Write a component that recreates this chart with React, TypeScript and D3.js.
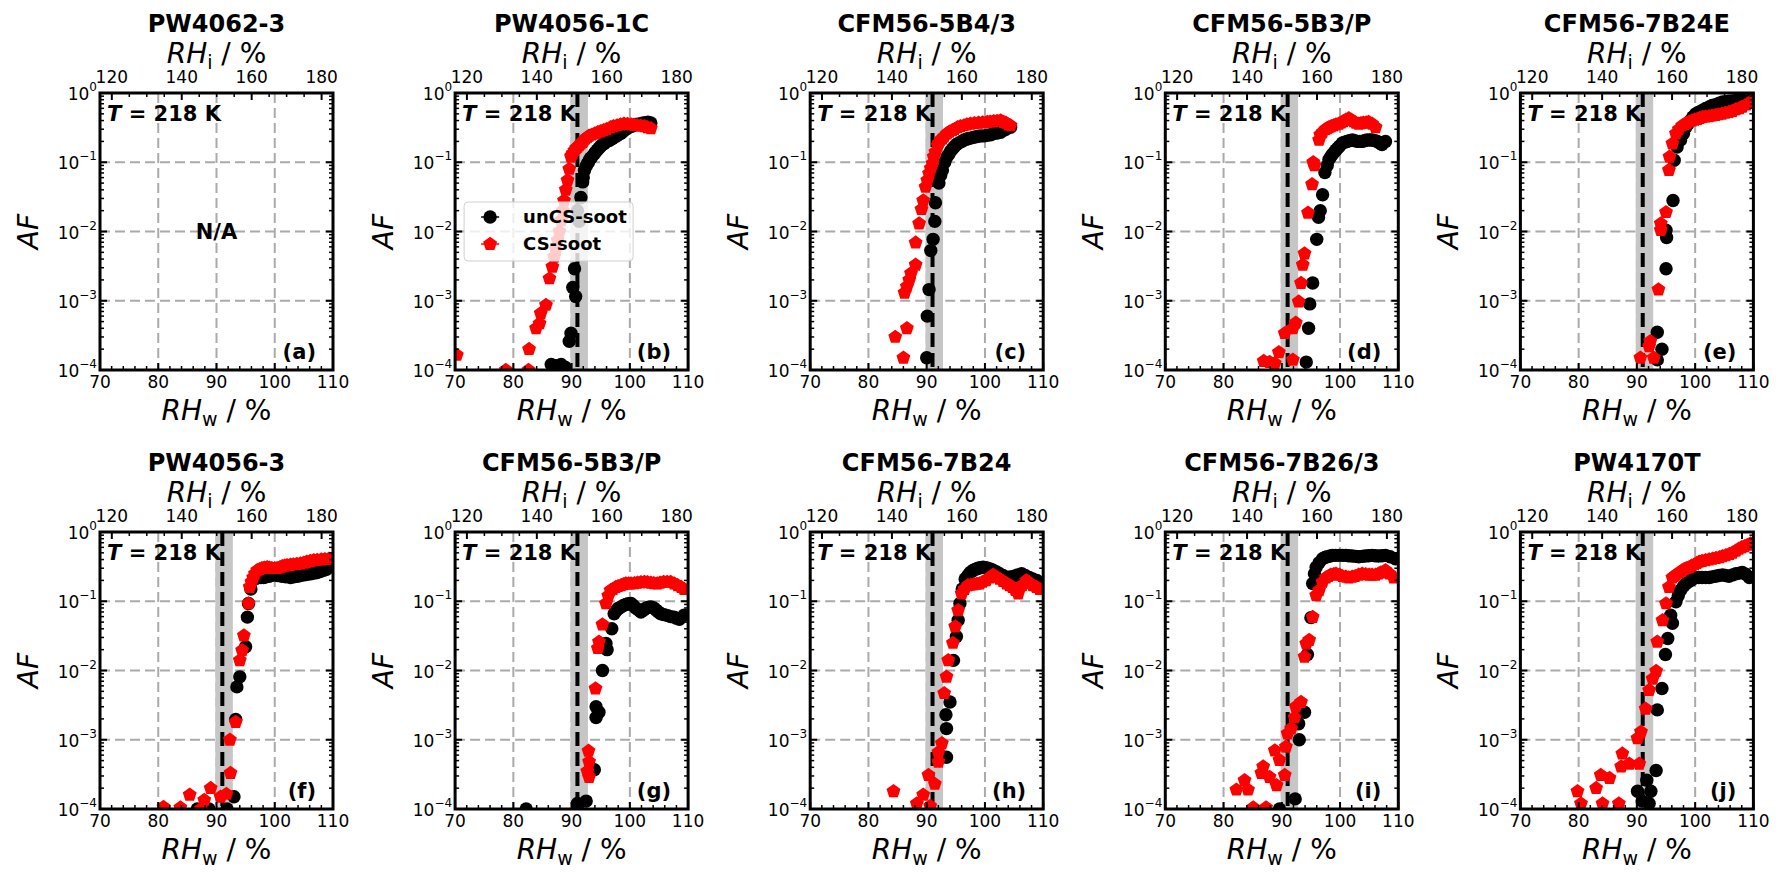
import * as d3 from 'd3'

type Pt = [number, number]

const titles = ['PW4062-3', 'PW4056-1C', 'CFM56-5B4/3', 'CFM56-5B3/P', 'CFM56-7B24E', 'PW4056-3', 'CFM56-5B3/P', 'CFM56-7B24', 'CFM56-7B26/3', 'PW4170T']
const letters = ['a', 'b', 'c', 'd', 'e', 'f', 'g', 'h', 'i', 'j']
const rhwTicks = [70, 80, 90, 100, 110]
const rhiTicks = [120, 140, 160, 180]
const afTicks = [1e-4, 1e-3, 1e-2, 1e-1, 1]
const afExp = ['−4', '−3', '−2', '−1', '0']
const rhiPerRhw = 1.666
const homLine = 91.0
const homBand: Pt = [89.8, 92.8]

// (RHw %, AF)
const bUn: Pt[] = [[86.5,1.2e-4],[87.3,1.15e-4],[88.2,1.2e-4],[88.9,1.1e-4],[89.6,2.6e-4],[89.9,3.4e-4],[90.2,1.55e-3],[90.7,1.15e-3],[90.5,2.9e-3],[91.0,0.02],[91.3,0.014],[91.6,0.031],[91.9,0.052],[92.0,0.06],[92.2,0.076],[92.5,0.088],[92.7,0.095],[92.9,0.1],[93.1,0.11],[93.3,0.115],[93.5,0.12],[93.9,0.133],[94.1,0.14],[94.4,0.15],[94.7,0.16],[95.0,0.17],[95.3,0.18],[95.6,0.186],[96.0,0.2],[96.3,0.205],[96.6,0.21],[97.0,0.22],[97.3,0.23],[97.7,0.24],[98.0,0.25],[98.4,0.26],[98.7,0.27],[99.0,0.29],[99.3,0.3],[99.6,0.31],[100.3,0.33],[100.6,0.34],[101.0,0.35],[101.4,0.355],[101.9,0.36],[102.3,0.37],[102.7,0.37],[103.1,0.38],[103.6,0.37]]
const bCs: Pt[] = [[70.3,1.65e-4],[78.7,1e-4],[82.6,1e-4],[82.7,2e-4],[83.9,4e-4],[84.5,4.7e-4],[84.7,6.6e-4],[85.6,8.7e-4],[86.2,2.1e-3],[86.7,3.1e-3],[87.0,4.3e-3],[87.3,5.5e-3],[87.6,7.5e-3],[87.9,0.01],[88.2,0.0145],[88.5,0.02],[88.7,0.028],[89.0,0.04],[89.3,0.055],[89.6,0.08],[89.9,0.12],[90.0,0.125],[90.2,0.135],[90.5,0.148],[90.8,0.16],[91.0,0.165],[91.3,0.175],[91.6,0.186],[91.9,0.195],[92.1,0.205],[92.4,0.22],[92.7,0.23],[93.0,0.24],[93.5,0.25],[94.0,0.26],[94.5,0.27],[95.0,0.28],[95.5,0.29],[96.0,0.3],[96.7,0.32],[97.2,0.33],[97.8,0.34],[98.4,0.35],[99.0,0.36],[99.6,0.355],[100.2,0.35],[100.8,0.345],[101.3,0.34],[101.9,0.335],[102.5,0.33],[103.0,0.32],[103.6,0.31]]
const cUn: Pt[] = [[90.0,1.5e-4],[90.1,6e-4],[90.4,1.45e-3],[90.7,5.3e-3],[91.1,7.7e-3],[91.4,0.014],[91.5,0.026],[92.1,0.05],[92.4,0.065],[92.7,0.077],[93.1,0.1],[93.5,0.12],[93.8,0.13],[94.1,0.145],[94.4,0.155],[94.7,0.166],[95.1,0.18],[95.5,0.19],[96.0,0.2],[96.4,0.21],[96.8,0.215],[97.2,0.22],[97.7,0.225],[98.1,0.23],[98.7,0.235],[99.2,0.24],[99.8,0.24],[100.4,0.245],[101.0,0.25],[101.5,0.26],[102.1,0.265],[102.7,0.27],[103.2,0.29],[103.6,0.3],[104.4,0.32]]
const cCs: Pt[] = [[86.0,1.5e-4],[84.6,3e-4],[86.6,4e-4],[86.2,1.3e-3],[86.6,1.6e-3],[87.0,2e-3],[87.3,2.5e-3],[88.1,3.3e-3],[88.1,6.9e-3],[88.7,0.013],[89.1,0.021],[89.4,0.028],[89.8,0.044],[90.1,0.055],[90.4,0.069],[90.7,0.082],[91.0,0.096],[91.2,0.12],[91.5,0.14],[91.9,0.175],[92.1,0.19],[92.4,0.21],[92.7,0.22],[93.0,0.235],[93.5,0.26],[93.9,0.275],[94.4,0.29],[94.8,0.3],[95.3,0.32],[95.8,0.33],[96.4,0.34],[96.9,0.35],[97.5,0.36],[98.2,0.365],[98.9,0.37],[99.6,0.375],[100.4,0.38],[100.9,0.385],[101.5,0.39],[102.1,0.395],[102.7,0.4],[103.2,0.38],[103.6,0.37],[104.0,0.35],[104.4,0.34]]
const dUn: Pt[] = [[94.2,1.3e-4],[94.6,4e-4],[94.8,9e-4],[95.3,1.8e-3],[96.0,7.7e-3],[96.3,0.016],[96.6,0.02],[97.0,0.034],[97.4,0.071],[97.8,0.09],[98.1,0.11],[98.4,0.12],[98.7,0.13],[99.0,0.14],[99.3,0.15],[99.6,0.16],[99.9,0.17],[100.4,0.19],[100.8,0.195],[101.2,0.2],[101.6,0.205],[102.1,0.21],[102.5,0.205],[103.0,0.2],[103.4,0.2],[103.8,0.2],[104.2,0.205],[104.6,0.21],[105.1,0.21],[105.5,0.21],[106.0,0.205],[106.4,0.2],[106.8,0.19],[107.2,0.18],[107.8,0.2]]
const dCs: Pt[] = [[86.9,1.35e-4],[87.9,1.3e-4],[88.8,1.25e-4],[89.5,1.8e-4],[90.5,3.4e-4],[91.9,4e-4],[91.9,1.4e-4],[92.4,4.8e-4],[92.9,9.7e-4],[93.3,1.8e-3],[93.6,3.3e-3],[93.9,4.8e-3],[94.5,0.0186],[95.2,0.048],[95.4,0.1],[95.6,0.09],[96.4,0.21],[96.6,0.25],[97.0,0.27],[97.5,0.3],[97.8,0.31],[98.1,0.32],[98.5,0.33],[98.9,0.34],[99.3,0.35],[99.8,0.36],[100.2,0.375],[100.6,0.39],[101.0,0.41],[101.5,0.43],[101.9,0.41],[102.3,0.39],[102.7,0.37],[103.2,0.36],[103.6,0.365],[104.0,0.37],[104.5,0.375],[104.9,0.38],[105.5,0.36],[106.1,0.32]]
const eUn: Pt[] = [[93.5,1.4e-4],[94.3,2e-4],[93.5,3.5e-4],[95.0,2.9e-3],[95.1,8.2e-3],[95.0,0.0104],[96.2,0.028],[96.4,0.107],[96.9,0.166],[97.5,0.21],[98.0,0.26],[98.4,0.32],[98.8,0.36],[99.2,0.4],[99.6,0.45],[100.1,0.5],[100.6,0.53],[101.2,0.56],[101.8,0.6],[102.4,0.63],[102.9,0.66],[103.5,0.68],[104.1,0.71],[104.7,0.74],[105.3,0.75],[105.8,0.76],[106.4,0.77],[107.0,0.78],[107.6,0.78],[108.2,0.78],[108.8,0.77],[109.3,0.78]]
const eCs: Pt[] = [[90.6,1.5e-4],[92.9,1.5e-4],[92.3,2.6e-4],[92.1,2.2e-4],[93.7,1.45e-3],[94.1,0.0105],[94.1,0.013],[95.0,0.019],[95.5,0.077],[95.6,0.12],[96.1,0.186],[96.7,0.26],[97.2,0.3],[97.8,0.34],[98.2,0.355],[98.6,0.37],[99.0,0.385],[99.5,0.4],[99.9,0.41],[100.4,0.42],[100.8,0.435],[101.3,0.45],[101.8,0.455],[102.4,0.46],[102.9,0.47],[103.5,0.48],[104.0,0.49],[104.6,0.5],[105.2,0.515],[105.8,0.53],[106.4,0.55],[107.0,0.58],[107.6,0.6],[108.1,0.63],[108.8,0.68],[109.5,0.74]]
const fUn: Pt[] = [[86.7,1e-4],[88.7,1e-4],[91.8,1e-4],[93.0,1.5e-4],[93.3,1.96e-3],[93.5,5.8e-3],[94.0,8.1e-3],[95.0,0.022],[95.3,0.059],[95.5,0.093],[95.9,0.15],[96.4,0.21],[96.8,0.215],[97.2,0.22],[97.6,0.22],[98.1,0.22],[98.5,0.225],[99.0,0.23],[99.4,0.235],[99.8,0.24],[100.5,0.235],[101.2,0.23],[101.9,0.225],[102.7,0.22],[103.3,0.225],[103.9,0.23],[104.4,0.235],[105.0,0.24],[105.6,0.245],[106.2,0.25],[106.8,0.255],[107.3,0.26],[107.9,0.27],[108.4,0.28],[108.9,0.29],[109.3,0.31]]
const fCs: Pt[] = [[80.9,1.07e-4],[83.8,1.05e-4],[85.4,1.6e-4],[87.3,1e-4],[87.9,1.35e-4],[89.0,2e-4],[90.7,1.5e-4],[91.7,1.65e-4],[92.4,3.3e-4],[92.3,1e-3],[93.3,1.8e-3],[94.0,0.014],[94.4,0.0196],[94.7,0.032],[95.5,0.093],[95.7,0.16],[96.0,0.19],[96.3,0.22],[96.6,0.25],[97.0,0.28],[97.4,0.29],[97.8,0.3],[98.2,0.305],[98.7,0.31],[99.1,0.305],[99.5,0.3],[100.0,0.3],[100.4,0.3],[100.9,0.31],[101.3,0.32],[101.7,0.325],[102.1,0.33],[102.7,0.335],[103.2,0.34],[103.8,0.345],[104.4,0.35],[105.0,0.36],[105.5,0.37],[106.1,0.38],[106.7,0.39],[107.3,0.395],[108.0,0.4],[108.6,0.405],[109.3,0.41]]
const gUn: Pt[] = [[82.2,1e-4],[91.0,1.2e-4],[92.5,1.3e-4],[93.9,3.7e-4],[94.2,3e-3],[94.2,2.1e-3],[94.7,2.5e-3],[95.3,0.01],[96.1,0.02],[95.9,0.0245],[96.9,0.04],[97.3,0.066],[97.6,0.072],[97.9,0.078],[98.2,0.08],[98.5,0.083],[98.9,0.087],[99.3,0.09],[99.7,0.092],[100.2,0.093],[100.6,0.087],[101.0,0.08],[101.5,0.075],[101.9,0.07],[102.4,0.075],[102.8,0.08],[103.2,0.082],[103.6,0.083],[104.1,0.08],[104.5,0.075],[104.9,0.07],[105.3,0.066],[105.9,0.064],[106.5,0.062],[107.0,0.06],[107.6,0.059],[108.0,0.057],[108.5,0.055],[109.3,0.063]]
const gCs: Pt[] = [[92.9,6.9e-4],[93.0,4.8e-4],[93.0,2.9e-4],[92.7,3.5e-4],[94.1,5.5e-3],[94.5,0.021],[94.7,0.026],[95.3,0.046],[95.9,0.093],[96.3,0.12],[96.7,0.144],[97.1,0.15],[97.6,0.16],[98.0,0.165],[98.5,0.17],[98.9,0.175],[99.3,0.18],[99.8,0.18],[100.2,0.18],[100.8,0.182],[101.3,0.185],[101.9,0.188],[102.5,0.19],[103.0,0.188],[103.6,0.185],[104.1,0.182],[104.7,0.18],[105.2,0.185],[105.8,0.19],[106.4,0.19],[107.0,0.19],[107.6,0.18],[108.2,0.17],[108.8,0.16],[109.3,0.15]]
const hUn: Pt[] = [[93.4,5.6e-4],[93.4,1.45e-3],[93.3,2.3e-3],[94.0,3.5e-3],[94.6,0.014],[95.1,0.031],[95.4,0.053],[95.7,0.093],[96.1,0.15],[96.6,0.21],[97.0,0.23],[97.3,0.25],[97.6,0.265],[98.0,0.28],[98.4,0.29],[98.8,0.3],[99.2,0.305],[99.7,0.31],[100.1,0.305],[100.5,0.3],[101.0,0.29],[101.4,0.28],[102.0,0.265],[102.5,0.25],[103.1,0.235],[103.7,0.22],[104.3,0.225],[105.0,0.23],[105.6,0.24],[106.3,0.25],[106.9,0.235],[107.6,0.22],[108.2,0.21],[108.9,0.2]]
const hCs: Pt[] = [[84.3,1.8e-4],[88.3,1.2e-4],[89.4,1.6e-4],[90.3,3.1e-4],[90.6,1.1e-4],[91.4,2.3e-4],[92.0,4.8e-4],[92.0,6.6e-4],[92.6,8.9e-4],[93.0,4.7e-3],[93.4,8.1e-3],[93.7,0.014],[94.5,0.025],[94.9,0.043],[95.4,0.074],[96.0,0.129],[96.5,0.15],[97.1,0.17],[97.6,0.172],[98.1,0.175],[98.6,0.178],[99.1,0.18],[99.6,0.19],[100.2,0.2],[100.8,0.22],[101.4,0.24],[101.9,0.225],[102.5,0.21],[103.1,0.195],[103.7,0.18],[104.2,0.17],[104.7,0.16],[105.2,0.145],[105.7,0.129],[106.4,0.17],[107.1,0.2],[107.6,0.185],[108.2,0.17],[108.8,0.16],[109.4,0.15]]
const iUn: Pt[] = [[89.6,1e-4],[92.3,1.4e-4],[93.0,1e-3],[92.9,1.7e-3],[93.9,2.5e-3],[94.4,0.017],[95.0,0.058],[95.3,0.18],[95.6,0.25],[95.9,0.31],[96.4,0.36],[97.0,0.41],[97.4,0.43],[97.8,0.44],[98.3,0.45],[98.7,0.46],[99.2,0.46],[99.8,0.46],[100.4,0.46],[101.0,0.46],[101.5,0.455],[102.1,0.45],[102.7,0.445],[103.2,0.44],[103.8,0.445],[104.3,0.45],[104.9,0.455],[105.5,0.46],[106.0,0.455],[106.6,0.45],[107.2,0.455],[107.8,0.46],[108.6,0.44],[109.5,0.41]]
const iCs: Pt[] = [[82.2,1.9e-4],[83.6,2.6e-4],[84.2,1.9e-4],[85.1,1.05e-4],[86.5,3.3e-4],[86.8,4.1e-4],[87.3,1.05e-4],[87.9,2.9e-4],[88.8,7e-4],[89.1,2.2e-4],[89.6,5.1e-4],[90.5,3.1e-4],[90.7,7.9e-4],[91.0,1.23e-3],[91.6,1.45e-3],[92.2,2.1e-3],[92.4,3e-3],[93.3,3.5e-3],[93.9,0.0158],[94.2,0.0245],[94.7,0.0275],[95.3,0.059],[95.9,0.122],[96.4,0.144],[97.0,0.19],[97.6,0.22],[98.0,0.23],[98.4,0.24],[98.9,0.245],[99.3,0.25],[99.9,0.24],[100.4,0.23],[101.0,0.225],[101.5,0.22],[102.1,0.225],[102.6,0.23],[103.2,0.24],[103.8,0.25],[104.4,0.245],[105.0,0.24],[105.5,0.24],[106.1,0.24],[106.6,0.25],[107.0,0.26],[107.8,0.28],[108.5,0.25],[109.2,0.22]]
const jUn: Pt[] = [[90.1,1.8e-4],[90.9,1.3e-4],[92.1,1.2e-4],[92.4,1.8e-4],[91.7,2.6e-4],[93.3,3.6e-4],[93.5,2.7e-3],[94.3,5.5e-3],[94.9,0.017],[95.3,0.029],[96.1,0.048],[95.8,0.063],[96.7,0.098],[97.1,0.12],[97.5,0.144],[98.0,0.165],[98.4,0.18],[98.8,0.19],[99.2,0.2],[99.6,0.21],[100.1,0.22],[100.6,0.22],[101.2,0.22],[101.8,0.22],[102.4,0.22],[102.9,0.225],[103.5,0.23],[104.1,0.235],[104.7,0.24],[105.2,0.235],[105.8,0.23],[106.4,0.24],[107.0,0.25],[107.6,0.255],[108.1,0.26],[108.7,0.245],[109.3,0.22]]
const jCs: Pt[] = [[79.8,1.8e-4],[80.4,1.2e-4],[83.0,2e-4],[83.8,3.1e-4],[84.1,1.2e-4],[85.3,2.8e-4],[86.9,1.2e-4],[87.3,4.1e-4],[87.5,6.3e-4],[88.7,4.5e-4],[90.4,4.5e-4],[90.1,1.05e-3],[90.7,1.3e-3],[91.5,2.8e-3],[92.1,5.2e-3],[92.7,7.6e-3],[93.3,9.8e-3],[93.5,0.026],[94.4,0.053],[95.0,0.093],[95.5,0.16],[96.1,0.22],[96.4,0.23],[96.7,0.24],[97.3,0.26],[97.7,0.275],[98.1,0.29],[98.5,0.3],[99.0,0.31],[99.4,0.325],[99.9,0.34],[100.3,0.355],[100.7,0.37],[101.2,0.38],[101.8,0.39],[102.4,0.4],[103.0,0.41],[103.6,0.42],[104.2,0.43],[104.7,0.445],[105.3,0.46],[105.9,0.48],[106.4,0.5],[107.0,0.535],[107.5,0.57],[108.0,0.6],[108.5,0.62],[109.0,0.65],[109.5,0.68]]

const unCS: (Pt[] | null)[] = [null, bUn, cUn, dUn, eUn, fUn, gUn, hUn, iUn, jUn]
const CS: (Pt[] | null)[] = [null, bCs, cCs, dCs, eCs, fCs, gCs, hCs, iCs, jCs]

const W = 233
const H = 277
const colLeft = (c: number) => 100 + c * 355.1
const rowTop = [93, 532]
const FONT = 'DejaVu Sans, sans-serif'

const pentagon = (r: number) =>
  d3.range(5).map(k => {
    const a = -Math.PI / 2 + (k * 2 * Math.PI) / 5
    return `${(r * Math.cos(a)).toFixed(2)},${(r * Math.sin(a)).toFixed(2)}`
  }).join(' ')

function Panel({ idx }: { idx: number }) {
  const left = colLeft(idx % 5)
  const top = rowTop[Math.floor(idx / 5)]
  const x = d3.scaleLinear().domain([70, 110]).range([0, W])
  const xi = d3.scaleLinear().domain([70 * rhiPerRhw, 110 * rhiPerRhw]).range([0, W])
  const y = d3.scaleLog().domain([1e-4, 1]).range([H, 0])

  const xMinor = d3.range(70, 111, 2).filter(v => v % 10 !== 0)
  const xiMinor = d3.range(120, 185, 5).filter(v => v % 20 !== 0)
  const yMinor: number[] = []
  for (let e = -4; e < 0; e++) for (let k = 2; k < 10; k++) yMinor.push(k * Math.pow(10, e))

  const un = unCS[idx]
  const cs = CS[idx]
  const clip = `clip-${idx}`
  const pent = pentagon(7.3)

  return (
    <g transform={`translate(${left},${top})`}>
      <defs>
        <clipPath id={clip}><rect x={0} y={0} width={W} height={H} /></clipPath>
      </defs>
      {/* grid */}
      <g stroke="#aaaaaa" strokeWidth={2} strokeDasharray="10,5" fill="none">
        {rhwTicks.slice(1, -1).map(v => <line key={'gx' + v} x1={x(v)} x2={x(v)} y1={0} y2={H} />)}
        {afTicks.slice(1, -1).map(v => <line key={'gy' + v} x1={0} x2={W} y1={y(v)} y2={y(v)} />)}
      </g>
      {un && (
        <g clipPath={`url(#${clip})`}>
          <rect x={x(homBand[0])} y={0} width={x(homBand[1]) - x(homBand[0])} height={H} fill="#c6c6c6" />
          <line x1={x(homLine)} x2={x(homLine)} y1={0} y2={H} stroke="#000" strokeWidth={4} strokeDasharray="14,6" />
          {un.map((d, k) => <circle key={'u' + k} cx={x(d[0])} cy={y(d[1])} r={6.7} fill="#000" />)}
          {cs && cs.map((d, k) => (
            <polygon key={'c' + k} points={pent} transform={`translate(${x(d[0])},${y(d[1])})`} fill="#ff0000" />
          ))}
        </g>
      )}
      {/* frame */}
      <rect x={0} y={0} width={W} height={H} fill="none" stroke="#000" strokeWidth={3} />
      {/* ticks */}
      <g stroke="#000">
        {rhwTicks.map(v => <line key={'tx' + v} x1={x(v)} x2={x(v)} y1={H} y2={H - 7} strokeWidth={2} />)}
        {xMinor.map(v => <line key={'mx' + v} x1={x(v)} x2={x(v)} y1={H} y2={H - 4} strokeWidth={1.5} />)}
        {rhiTicks.map(v => <line key={'ti' + v} x1={xi(v)} x2={xi(v)} y1={0} y2={7} strokeWidth={2} />)}
        {xiMinor.map(v => <line key={'mi' + v} x1={xi(v)} x2={xi(v)} y1={0} y2={4} strokeWidth={1.5} />)}
        {afTicks.map(v => (
          <g key={'ty' + v} strokeWidth={2}>
            <line x1={0} x2={7} y1={y(v)} y2={y(v)} />
            <line x1={W} x2={W - 7} y1={y(v)} y2={y(v)} />
          </g>
        ))}
        {yMinor.map(v => (
          <g key={'my' + v} strokeWidth={1.5}>
            <line x1={0} x2={4} y1={y(v)} y2={y(v)} />
            <line x1={W} x2={W - 4} y1={y(v)} y2={y(v)} />
          </g>
        ))}
      </g>
      {/* tick labels */}
      <g fontFamily={FONT} fontSize={17} fill="#000">
        {rhwTicks.map(v => <text key={'lx' + v} x={x(v)} y={H + 18} textAnchor="middle">{v}</text>)}
        {rhiTicks.map(v => <text key={'li' + v} x={xi(v)} y={-10} textAnchor="middle">{v}</text>)}
        {afTicks.map((v, k) => (
          <text key={'ly' + v} x={-3} y={y(v) + 7} textAnchor="end">
            10<tspan fontSize={12} dy={-9}>{afExp[k]}</tspan>
          </text>
        ))}
      </g>
      {/* axis labels */}
      <g fontFamily={FONT} fill="#000">
        <text x={W / 2} y={-61} textAnchor="middle" fontSize={24} fontWeight="bold">{titles[idx]}</text>
        <text x={W / 2} y={-30} textAnchor="middle" fontSize={28}>
          <tspan fontStyle="italic">RH</tspan><tspan fontSize={19} dy={6}>i</tspan><tspan dy={-6}> / %</tspan>
        </text>
        <text x={W / 2} y={H + 50} textAnchor="middle" fontSize={28}>
          <tspan fontStyle="italic">RH</tspan><tspan fontSize={19} dy={6}>w</tspan><tspan dy={-6}> / %</tspan>
        </text>
        <text transform={`translate(-62,${H / 2}) rotate(-90)`} textAnchor="middle" fontSize={28} fontStyle="italic">AF</text>
        <text x={7} y={28} fontSize={21} fontWeight="bold">
          <tspan fontStyle="italic">T</tspan> = 218 K
        </text>
        <text x={W - 17} y={H - 11} fontSize={21} fontWeight="bold" textAnchor="end">({letters[idx]})</text>
        {!un && <text x={W / 2} y={y(1e-2) + 7} fontSize={21} fontWeight="bold" textAnchor="middle">N/A</text>}
      </g>
      {idx === 1 && (
        <g transform="translate(9,109)" fontFamily={FONT}>
          <rect x={0} y={0} width={169} height={59} rx={4} fill="#fff" fillOpacity={0.8} stroke="#d0d0d0" strokeWidth={1} />
          <line x1={17} x2={35} y1={15} y2={15} stroke="#000" strokeWidth={1.5} />
          <circle cx={26} cy={15} r={6.7} fill="#000" />
          <text x={59} y={21} fontSize={18} fontWeight="bold">unCS-soot</text>
          <line x1={17} x2={35} y1={42} y2={42} stroke="#ff0000" strokeWidth={1.5} />
          <polygon points={pent} transform="translate(26,42)" fill="#ff0000" />
          <text x={59} y={48} fontSize={18} fontWeight="bold">CS-soot</text>
        </g>
      )}
    </g>
  )
}

export default function App() {
  return (
    <svg width={1786} height={881} style={{ position: 'absolute', left: 0, top: 0, background: '#fff' }}>
      <rect width={1786} height={881} fill="#fff" />
      {titles.map((_, i) => <Panel key={i} idx={i} />)}
    </svg>
  )
}
